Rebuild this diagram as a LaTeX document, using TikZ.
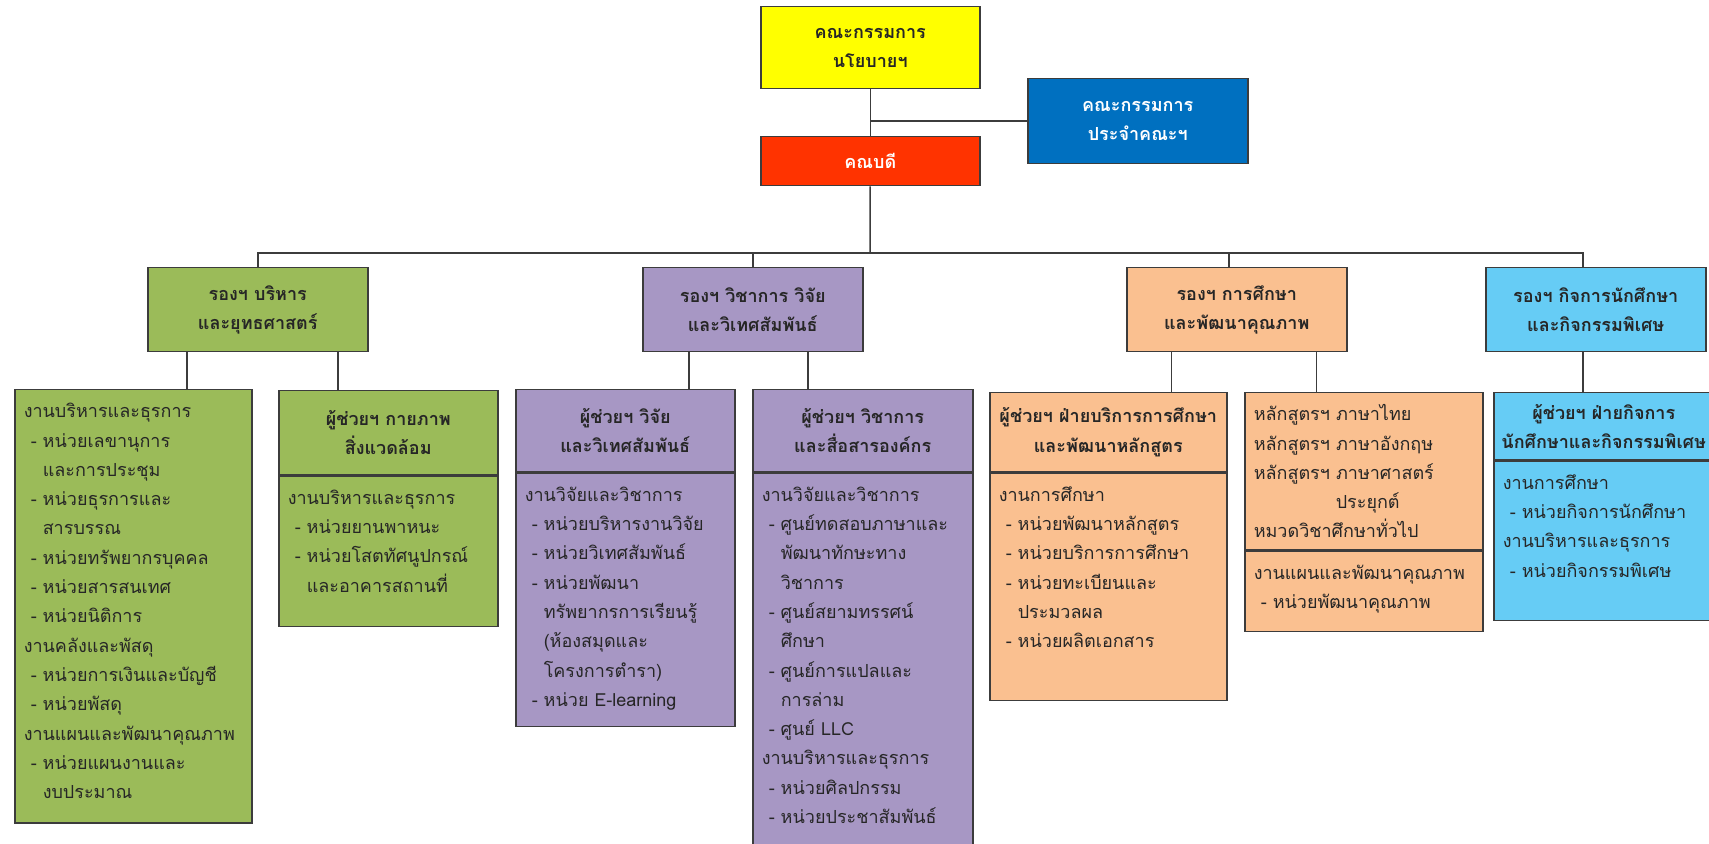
\documentclass[tikz,border=0pt]{standalone}
\usepackage{fontspec}
\newfontfamily\thaifont[Script=Thai]{Loma}
\usetikzlibrary{positioning}

\definecolor{policyyellow}{RGB}{255,255,0}
\definecolor{deanred}{RGB}{255,51,0}
\definecolor{boardblue}{RGB}{0,112,192}
\definecolor{admingreen}{RGB}{155,187,89}
\definecolor{acadpurple}{RGB}{167,151,196}
\definecolor{eduorange}{RGB}{250,192,144}
\definecolor{stdblue}{RGB}{102,204,245}
\definecolor{linegray}{RGB}{60,60,60}
\definecolor{txtdark}{RGB}{38,38,38}

\newcommand{\ditem}{\makebox[9.5pt][l]{\hspace*{3.5pt}-}}
\newcommand{\dcont}{\hspace*{9.5pt}}
\newcommand{\unittext}[3]{\parbox[t][#2][t]{#1}{\strut #3}}

\tikzset{
every picture/.style={line width=0.75pt, x=0.5pt, y=-0.5pt},
%%%%%%%%%%  Node styles
topbox/.style={draw=linegray, inner sep=0pt, minimum width=109.5pt,
               font=\thaifont\bfseries\fontsize{9}{14.65}\selectfont,
               align=center, anchor=north west},
vpbox/.style={draw=linegray, inner sep=0pt, minimum width=110pt,
              minimum height=42pt, text=txtdark,
              font=\thaifont\bfseries\fontsize{9}{14.65}\selectfont,
              align=center, anchor=north west},
unithead/.style={draw=linegray, inner sep=0pt, text=txtdark,
                 font=\thaifont\bfseries\fontsize{9}{14.65}\selectfont,
                 align=center},
unitbody/.style={draw=linegray, inner xsep=4.5pt, inner ysep=3.75pt,
                 text=txtdark, font=\thaifont\fontsize{9}{14.65}\selectfont},
link/.style={draw=linegray},
%%%%%%% Fill styles %%%%%%%%%%%%%%%
policy/.style={fill=policyyellow},
dean/.style={fill=deanred, text=white},
board/.style={fill=boardblue, text=white},
admin/.style={fill=admingreen},
acad/.style={fill=acadpurple},
edu/.style={fill=eduorange},
student/.style={fill=stdblue}
}

\begin{document}
\begin{tikzpicture}
\useasboundingbox (0,0) rectangle (1709,844);
%% top level
\node[topbox, policy, minimum height=41pt, text=txtdark] (policy) at (760,6) {คณะกรรมการ\\นโยบายฯ};
\node[topbox, dean, minimum height=24.5pt] (dean) at (760,136) {คณบดี};
\node[topbox, board, minimum width=110pt, minimum height=42.5pt] (board) at (1027,78) {คณะกรรมการ\\ประจำคณะฯ};
\coordinate (bus) at (870,253);
\draw[link] (policy) -- (dean);
\draw[link] (board.west) -- (board.west -| policy.south);
\draw[link] (dean) -- (bus);

%% deputies
\node[vpbox, admin] (vpA) at (147,267) {รองฯ บริหาร\\และยุทธศาสตร์};
\node[vpbox, acad] (vpB) at (642,267) {รองฯ วิชาการ วิจัย\\และวิเทศสัมพันธ์};
\node[vpbox, edu] (vpC) at (1126,267) {รองฯ การศึกษา\\และพัฒนาคุณภาพ};
\node[vpbox, student] (vpD) at (1485,267) {รองฯ กิจการนักศึกษา\\และกิจกรรมพิเศษ};
\draw[link] (vpA.north) |- (bus) -| ([xshift=-6.5pt]vpD.north);
\draw[link] (vpB.north) -- (vpB.north |- bus);
\draw[link] ([xshift=-4pt]vpC.north) -- ([xshift=-4pt]vpC.north |- bus);

%% green units
\node[unitbody, admin, anchor=north west] (gA) at (14,389)
  {\unittext{109.5pt}{209pt}{งานบริหารและธุรการ\\
  \ditem หน่วยเลขานุการ\\
  \dcont และการประชุม\\
  \ditem หน่วยธุรการและ\\
  \dcont สารบรรณ\\
  \ditem หน่วยทรัพยากรบุคคล\\
  \ditem หน่วยสารสนเทศ\\
  \ditem หน่วยนิติการ\\
  งานคลังและพัสดุ\\
  \ditem หน่วยการเงินและบัญชี\\
  \ditem หน่วยพัสดุ\\
  งานแผนและพัฒนาคุณภาพ\\
  \ditem หน่วยแผนงานและ\\
  \dcont งบประมาณ}};
\node[unithead, admin, minimum width=109.5pt, minimum height=42pt, anchor=north west] (gBh) at (278,390)
  {ผู้ช่วยฯ กายภาพ\\สิ่งแวดล้อม};
\node[unitbody, admin, below=0pt of gBh] (gB)
  {\unittext{100.5pt}{67.5pt}{งานบริหารและธุรการ\\
  \ditem หน่วยยานพาหนะ\\
  \ditem หน่วยโสตทัศนูปกรณ์\\
  \dcont และอาคารสถานที่}};
\draw[link] ([xshift=-35.5pt]vpA.south) -- ([xshift=-35.5pt]vpA.south |- gA.north);
\draw[link] ([xshift=40pt]vpA.south) -- ([xshift=40pt]vpA.south |- gBh.north);

%% purple units
\node[unithead, acad, minimum width=109.5pt, minimum height=41pt, anchor=north west] (pAh) at (515,389)
  {ผู้ช่วยฯ วิจัย\\และวิเทศสัมพันธ์};
\node[unitbody, acad, below=0pt of pAh] (pA)
  {\unittext{100.5pt}{119pt}{งานวิจัยและวิชาการ\\
  \ditem หน่วยบริหารงานวิจัย\\
  \ditem หน่วยวิเทศสัมพันธ์\\
  \ditem หน่วยพัฒนา\\
  \dcont ทรัพยากรการเรียนรู้\\
  \dcont (ห้องสมุดและ\\
  \dcont โครงการตำรา)\\
  \ditem หน่วย E-learning}};
\node[unithead, acad, minimum width=110pt, minimum height=41pt, anchor=north west] (pBh) at (752,389)
  {ผู้ช่วยฯ วิชาการ\\และสื่อสารองค์กร};
\node[unitbody, acad, below=0pt of pBh] (pB)
  {\unittext{101pt}{192pt}{งานวิจัยและวิชาการ\\
  \ditem ศูนย์ทดสอบภาษาและ\\
  \dcont พัฒนาทักษะทาง\\
  \dcont วิชาการ\\
  \ditem ศูนย์สยามทรรศน์\\
  \dcont ศึกษา\\
  \ditem ศูนย์การแปลและ\\
  \dcont การล่าม\\
  \ditem ศูนย์ LLC\\
  งานบริหารและธุรการ\\
  \ditem หน่วยศิลปกรรม\\
  \ditem หน่วยประชาสัมพันธ์}};
\draw[link] ([xshift=-32pt]vpB.south) -- ([xshift=-32pt]vpB.south |- pAh.north);
\draw[link] ([xshift=27.5pt]vpB.south) -- ([xshift=27.5pt]vpB.south |- pBh.north);

%% orange units
\node[unithead, edu, minimum width=118.5pt, minimum height=39.5pt, anchor=north west] (oAh) at (989,392)
  {ผู้ช่วยฯ ฝ่ายบริการการศึกษา\\และพัฒนาหลักสูตร};
\node[unitbody, edu, below=0pt of oAh] (oA)
  {\unittext{109.5pt}{106pt}{งานการศึกษา\\
  \ditem หน่วยพัฒนาหลักสูตร\\
  \ditem หน่วยบริการการศึกษา\\
  \ditem หน่วยทะเบียนและ\\
  \dcont ประมวลผล\\
  \ditem หน่วยผลิตเอกสาร}};
\node[unitbody, edu, anchor=north west] (oBh) at (1244,392)
  {\unittext{110pt}{71pt}{หลักสูตรฯ ภาษาไทย\\
  หลักสูตรฯ ภาษาอังกฤษ\\
  หลักสูตรฯ ภาษาศาสตร์\\
  \hspace*{41pt}ประยุกต์\\
  หมวดวิชาศึกษาทั่วไป}};
\node[unitbody, edu, below=0pt of oBh] (oB)
  {\unittext{110pt}{32.5pt}{งานแผนและพัฒนาคุณภาพ\\
  \ditem หน่วยพัฒนาคุณภาพ}};
\draw[link] ([xshift=-32.75pt]vpC.south) -- ([xshift=-32.75pt]vpC.south |- oAh.north);
\draw[link] ([xshift=39.75pt]vpC.south) -- ([xshift=39.75pt]vpC.south |- oBh.north);

%% light blue unit
\node[unithead, student, minimum width=110pt, minimum height=33.5pt, anchor=north west] (bAh) at (1493,392)
  {ผู้ช่วยฯ ฝ่ายกิจการ\\นักศึกษาและกิจกรรมพิเศษ};
\node[unitbody, student, below=0pt of bAh] (bA)
  {\unittext{101pt}{72pt}{งานการศึกษา\\
  \ditem หน่วยกิจการนักศึกษา\\
  งานบริหารและธุรการ\\
  \ditem หน่วยกิจกรรมพิเศษ}};
\draw[link] ([xshift=-6.5pt]vpD.south) -- ([xshift=-6.5pt]vpD.south |- bAh.north);
\end{tikzpicture}
\end{document}
